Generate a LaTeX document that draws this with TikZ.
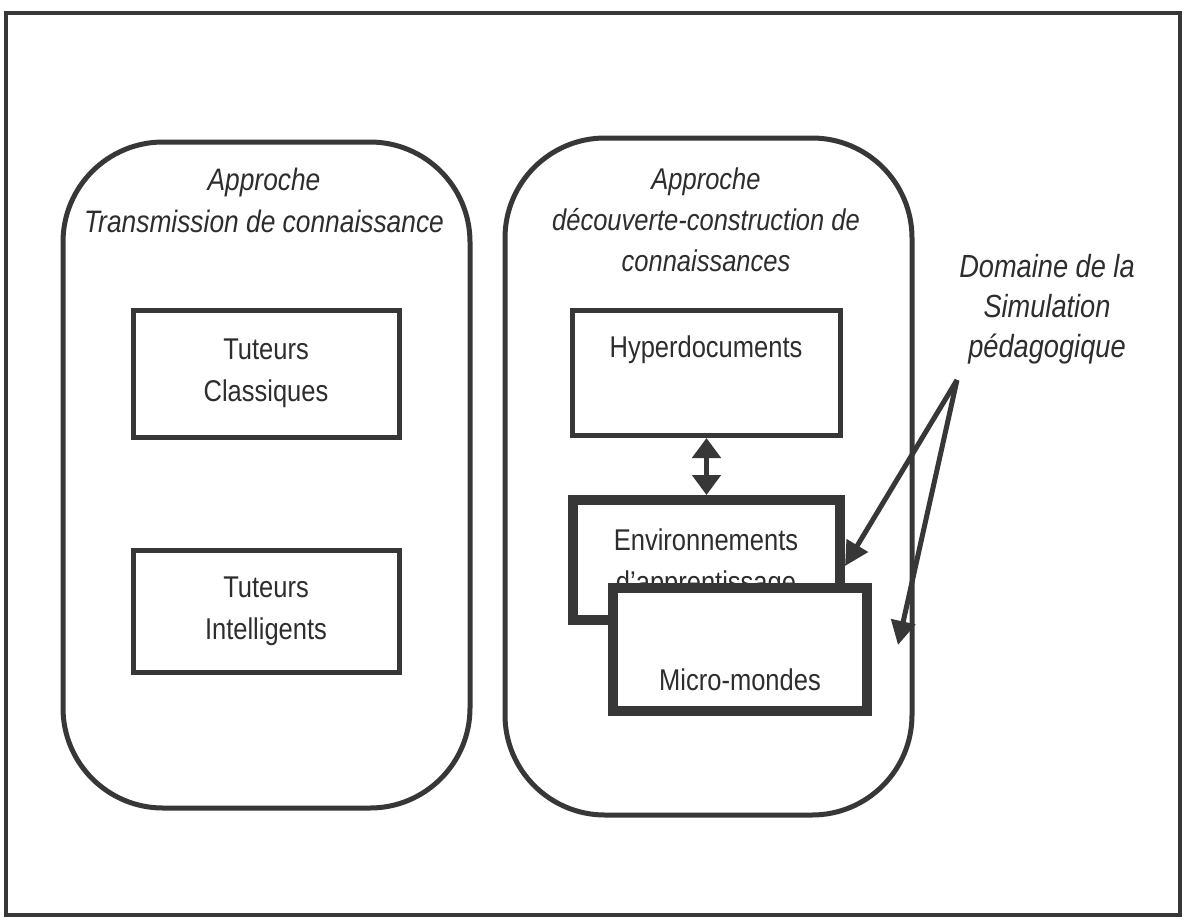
\documentclass[tikz,border=0pt]{standalone}
\usepackage{fontspec}
\setmainfont{Liberation Sans}[FakeStretch=0.85]
\usetikzlibrary{arrows.meta}
\definecolor{ink}{RGB}{55,55,55}
\definecolor{txt}{RGB}{45,45,45}
\tikzset{
  frame/.style={draw=ink, line width=4pt},
  bigbox/.style={draw=ink, line width=5pt, rounded corners=100pt, inner sep=0pt},
  thinbox/.style={draw=ink, line width=5pt, fill=white, inner sep=0pt},
  thickbox/.style={draw=ink, line width=10pt, fill=white, inner sep=0pt},
  lbl/.style={text=txt, align=center, inner sep=0pt, font=\fontsize{30}{42}\selectfont},
  head/.style={text=txt, align=center, inner sep=0pt, font=\fontsize{30}{41}\selectfont\itshape},
  arr/.style={draw=ink, line width=5pt, -{Triangle[width=24pt,length=24pt]}},
  darr/.style={draw=ink, line width=5pt, {Triangle[width=28pt,length=20pt]}-{Triangle[width=28pt,length=20pt]}},
}
\begin{document}
\begin{tikzpicture}[x=1pt,y=-1pt]
\useasboundingbox (0,0) rectangle (1185,922);
\fill[white] (0,0) rectangle (1185,922);
% outer frame
\node[frame, minimum width=1174pt, minimum height=902pt, inner sep=0pt] (outer) at (593,464) {};
% large rounded regions
\node[bigbox, minimum width=407pt, minimum height=666pt] (left) at (266.5,475) {};
\node[bigbox, minimum width=407pt, minimum height=677pt] (right) at (708.5,476.5) {};
% headings
\node[head, font=\fontsize{31}{42}\selectfont\itshape] (lhead) at (264,200) {Approche\\Transmission de connaissance};
\node[head] (rhead) at (706,220) {Approche\\découverte-construction de\\connaissances};
\node[head, font=\fontsize{32}{40}\selectfont\itshape] (dom) at (1047,309) {Domaine de la\\Simulation\\pédagogique};
% left boxes
\node[thinbox, lbl, minimum width=266pt, minimum height=127pt] (tc) at (266,373.5) {Tuteurs\\Classiques};
\node[thinbox, lbl, minimum width=266pt, minimum height=122pt] (ti) at (266,611.5) {Tuteurs\\Intelligents};
% right boxes
\node[thinbox, minimum width=268pt, minimum height=125pt] (hyp) at (706.5,373) {};
\node[lbl] (hyplbl) at (706,350) {Hyperdocuments};
\node[thickbox, minimum width=267pt, minimum height=120pt] (env) at (706.5,560) {};
\node[lbl] (envlbl) at (706,564) {Environnements\\d'apprentissage};
\node[thickbox, minimum width=254pt, minimum height=123pt] (mic) at (740,649.5) {};
\node[lbl] (miclbl) at (740,680) {Micro-mondes};
% connectors
\draw[darr] (hyp.south) -- (env.north);
\coordinate (apex) at (957,380);
\coordinate (tip2) at (898,645);
\draw[arr] (apex) -- ([yshift=-6pt]env.east);
\draw[arr] (apex) -- (tip2);
\end{tikzpicture}
\end{document}
